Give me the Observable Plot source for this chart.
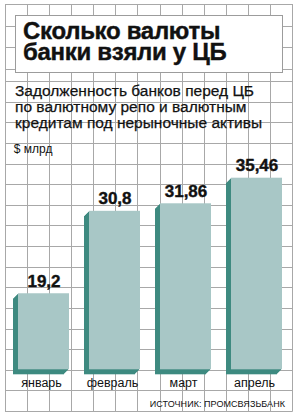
<!DOCTYPE html>
<html lang="ru">
<head>
<meta charset="utf-8">
<script src="https://cdn.jsdelivr.net/npm/d3@7"></script>
<script src="https://cdn.jsdelivr.net/npm/@observablehq/plot@0.6"></script>
<style>
  html, body { margin: 0; padding: 0; background: #fff; }
  #page { position: relative; width: 298px; height: 418px; background: #fff; overflow: hidden;
          font-family: "Liberation Sans", Arial, sans-serif; color: #111; }
  #bg { position: absolute; left: 0; top: 0; }
  #titlebox { position: absolute; left: 15px; top: 15px; width: 266px; height: 56px;
              border: 1px solid #9c9c9c; background: #fff; }
  .tline { position: absolute; left: 23px; font-size: 24px; line-height: 20px; height: 20px;
           font-weight: bold; letter-spacing: -0.3px; white-space: nowrap; -webkit-text-stroke: 0.4px #111; }
  #title1 { top: 21px; }
  #title2 { top: 41.5px; }
  #subtitle { position: absolute; left: 15px; top: 83.1px; font-size: 15.5px; line-height: 16px;
              white-space: nowrap; -webkit-text-stroke: 0.25px #111; }
  #chart { position: absolute; left: 0; top: 140px; }
  #source { position: absolute; right: 13px; top: 398.6px; font-size: 9px; line-height: 10px;
            letter-spacing: 0.05px; white-space: nowrap; }
</style>
</head>
<body>
<div id="page">
  <svg id="bg" width="298" height="418"></svg>
  <div id="titlebox"></div>
  <div class="tline" id="title1">Сколько валюты</div>
  <div class="tline" id="title2">банки взяли у ЦБ</div>
  <div id="subtitle">Задолженность банков перед ЦБ<br>по валютному репо и валютным<br>кредитам под нерыночные активы</div>
  <div id="chart"></div>
  <div id="source">ИСТОЧНИК: ПРОМСВЯЗЬБАНК</div>
</div>
<script>
// ---- data ----
const months = ["январь", "февраль", "март", "апрель"];
const values = [19.2, 30.8, 31.86, 35.46];
const unitLabel = "$ млрд";
const yBase = 8.5; // where the (truncated) value axis starts at the bar bottoms

// ---- background grid (decoration) ----
const bg = d3.select("#bg");
const gridColor = "#a8a8a8";
const vLines = d3.range(14).map(k => 5 + k * 22.08);
const hLines = [4, 25.5, 47, 68.5].concat(d3.range(17).map(k => 81 + k * 20.625));
bg.selectAll("line.v").data(vLines).join("line")
  .attr("x1", d => Math.round(d) + 0.5).attr("x2", d => Math.round(d) + 0.5)
  .attr("y1", 4).attr("y2", 411.5)
  .attr("stroke", gridColor).attr("stroke-width", 1);
bg.selectAll("line.h").data(hLines).join("line")
  .attr("y1", d => Math.round(d) + 0.5).attr("y2", d => Math.round(d) + 0.5)
  .attr("x1", 5).attr("x2", 292.5)
  .attr("stroke", gridColor).attr("stroke-width", 1);

// ---- chart ----
const data = months.map((m, i) => ({month: m, value: values[i]}));
const fmt = v => String(v).replace(".", ",");
const faceColor = "#a8c7c6";
const sideColor = "#3e8a80";
const depth = [5, 4, 3, 2, 1];

const chart = Plot.plot({
  width: 298,
  height: 252,
  marginLeft: 17.3,
  marginRight: 16.3,
  marginTop: 37.7,
  marginBottom: 22.7,
  x: {domain: months, paddingInner: 0.283, paddingOuter: 0, axis: null},
  y: {domain: [yBase, d3.max(values)], axis: null},
  style: {background: "transparent", fontFamily: "'Liberation Sans', Arial, sans-serif", color: "#111"},
  marks: [
    ...depth.map(k => Plot.barY(data, {x: "month", y1: () => yBase, y2: "value", fill: sideColor, dx: -k, dy: k})),
    Plot.barY(data, {x: "month", y1: () => yBase, y2: "value", fill: faceColor}),
    Plot.text(data, {x: "month", y: "value", text: d => fmt(d.value), dy: -7, lineAnchor: "bottom",
                     fontSize: 17, fontWeight: "bold", fill: "#111", stroke: "#111", strokeWidth: 0.4}),
    Plot.text(data, {x: "month", frameAnchor: "bottom", text: "month", dx: -2.5, dy: 17.2,
                     lineAnchor: "bottom", fontSize: 12.5, fill: "#111"}),
    Plot.text([unitLabel], {frameAnchor: "top-left", text: d => d, dx: -4, dy: -25.2,
                     lineAnchor: "bottom", textAnchor: "start", fontSize: 12, fill: "#111"})
  ]
});
document.getElementById("chart").appendChild(chart);
</script>
</body>
</html>
